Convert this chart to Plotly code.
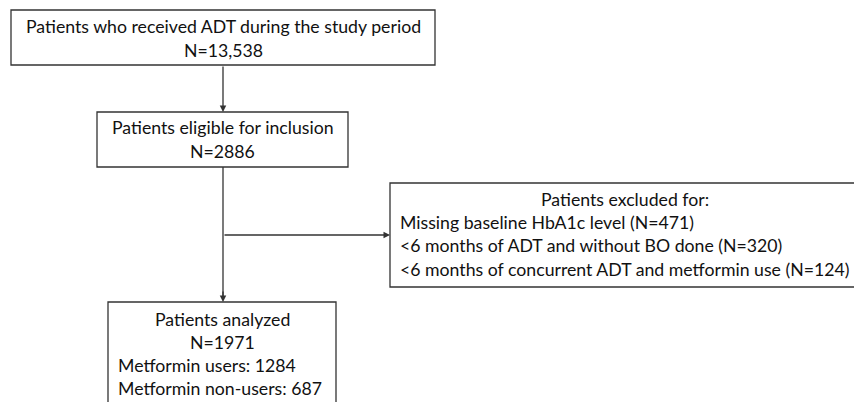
import plotly.graph_objects as go

# ---- content ----
box1_lines = ["Patients who received ADT during the study period", "N=13,538"]
box2_lines = ["Patients eligible for inclusion", "N=2886"]
box3_title = "Patients excluded for:"
box3_lines = ["Missing baseline HbA1c level (N=471)",
              "<6 months of ADT and without BO done (N=320)",
              "<6 months of concurrent ADT and metformin use (N=124)"]
box4_lines = ["Patients analyzed", "N=1971"]
box4_detail = ["Metformin users: 1284", "Metformin non-users: 687"]

# ---- layout geometry (pixel space of the reference) ----
W, H = 862, 402
OFF = 8  # page body margin
boxes = {
    "b1": (11, 10, 435, 65),
    "b2": (97, 112, 348, 167),
    "b3": (390, 183, 900, 287),
    "b4": (108, 302, 336, 440),
}
FONT = "Lato"
FS = 17.7
LINE = "#333333"
TXT = "#111111"

fig = go.Figure()
fig.add_trace(go.Scatter(x=[OFF, W], y=[OFF, H], mode="markers", marker=dict(opacity=0), hoverinfo="skip", showlegend=False))

shapes = []
for (x0, y0, x1, y1) in boxes.values():
    shapes.append(dict(type="rect", xref="x", yref="y", x0=x0, y0=y0, x1=x1, y1=y1,
                       line=dict(color=LINE, width=1.3), fillcolor="white", layer="below"))
cx = 223
shapes.append(dict(type="line", xref="x", yref="y", x0=cx, y0=167, x1=cx, y1=300, line=dict(color=LINE, width=1.3)))
fig.update_layout(shapes=shapes)

ann = []
def txt(x, y, s, anchor="center"):
    ann.append(dict(x=x, y=y, xref="x", yref="y", text=s, showarrow=False, xanchor=anchor, yanchor="middle",
                    font=dict(family=FONT, size=FS, color=TXT)))

def arrow(x0, y0, x1, y1):
    ann.append(dict(x=x1, y=y1, ax=x0, ay=y0, xref="x", yref="y", axref="x", ayref="y", text="",
                    showarrow=True, arrowhead=2, arrowsize=1, arrowwidth=1.3, arrowcolor=LINE, standoff=0))

c1 = (boxes["b1"][0] + boxes["b1"][2]) / 2
txt(c1, 26, box1_lines[0]); txt(c1, 50, box1_lines[1])
c2 = (boxes["b2"][0] + boxes["b2"][2]) / 2
txt(c2, 127, box2_lines[0]); txt(c2, 151, box2_lines[1])
txt(625, 199, box3_title)
for i, s in enumerate(box3_lines):
    txt(398, 222 + i * 23.5, s, "left")
c4 = (boxes["b4"][0] + boxes["b4"][2]) / 2
txt(c4, 319, box4_lines[0]); txt(c4, 342, box4_lines[1])
for i, s in enumerate(box4_detail):
    txt(116, 365 + i * 23, s, "left")

arrow(cx, 65, cx, 112)
arrow(cx, 235, 390, 235)
arrow(cx, 290, cx, 302)
fig.update_layout(annotations=ann)

fig.update_xaxes(range=[OFF, W], visible=False, fixedrange=True)
fig.update_yaxes(range=[H, OFF], visible=False, fixedrange=True)
fig.update_layout(width=W - OFF, height=H - OFF, margin=dict(l=0, r=0, t=0, b=0),
                  plot_bgcolor="white", paper_bgcolor="white")
fig.write_html("out.html")
